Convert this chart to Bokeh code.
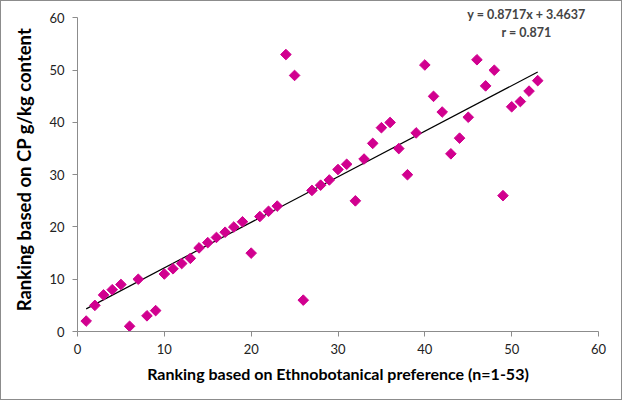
import math
from bokeh.plotting import figure
from bokeh.models import Label, SingleIntervalTicker
from bokeh.embed import file_html
from bokeh.resources import INLINE

# Data
ethno_rank = list(range(1, 54))
cp_rank = [2, 5, 7, 8, 9, 1, 10, 3, 4, 11, 12, 13, 14, 16, 17, 18, 19, 20, 21, 15,
           22, 23, 24, 53, 49, 6, 27, 28, 29, 31, 32, 25, 33, 36, 39, 40, 35, 30, 38, 51,
           45, 42, 34, 37, 41, 52, 47, 50, 26, 43, 44, 46, 48]
slope = 0.8717
intercept = 3.4637
trend_x = [1, 53]
trend_y = [slope * v + intercept for v in trend_x]
eq_text = "y = 0.8717x + 3.4637"
r_text = "r = 0.871"

FONT = "Lato"

p = figure(width=622, height=400, output_backend="svg", toolbar_location=None,
           x_range=(0, 60), y_range=(0, 62),
           min_border_left=76, min_border_right=25, min_border_top=6, min_border_bottom=70,
           styles={"border": "1px solid #8c8c8c"})
p.outline_line_color = None
p.grid.grid_line_color = None
p.background_fill_color = "white"
p.border_fill_color = "white"

p.line(trend_x, trend_y, line_color="black", line_width=1.2)
p.scatter(ethno_rank, cp_rank, marker="square", angle=math.pi / 4, size=7.5,
          fill_color="#D1008F", line_color="#D1008F")

for ax in (p.xaxis[0], p.yaxis[0]):
    ax.ticker = SingleIntervalTicker(interval=10)
    ax.bounds = (0, 60)
    ax.minor_tick_line_color = None
    ax.axis_line_color = "#8c8c8c"
    ax.major_tick_line_color = "#8c8c8c"
    ax.major_tick_out = 5
    ax.major_tick_in = 0
    ax.major_label_text_font = FONT
    ax.major_label_text_font_size = "13px"
    ax.major_label_text_color = "#222222"
    ax.axis_label_text_font = FONT
    ax.axis_label_text_font_style = "bold"
    ax.axis_label_text_color = "black"

p.xaxis.axis_label = "Ranking based on Ethnobotanical preference (n=1-53)"
p.xaxis.axis_label_text_font_size = "16px"
p.xaxis.major_label_standoff = 7
p.xaxis.axis_label_standoff = 7

p.yaxis.axis_label = "Ranking based on CP g/kg content"
p.yaxis.axis_label_text_font_size = "18.5px"
p.yaxis.major_label_standoff = 8
p.yaxis.axis_label_standoff = 11

p.add_layout(Label(x=51.7, y=60.6, text=eq_text, text_align="center", text_baseline="middle",
                   text_font=FONT, text_font_style="bold", text_font_size="12.5px"))
p.add_layout(Label(x=51.7, y=57.2, text=r_text, text_align="center", text_baseline="middle",
                   text_font=FONT, text_font_style="bold", text_font_size="12.5px"))

open("out.html", "w").write(file_html(p, INLINE))
